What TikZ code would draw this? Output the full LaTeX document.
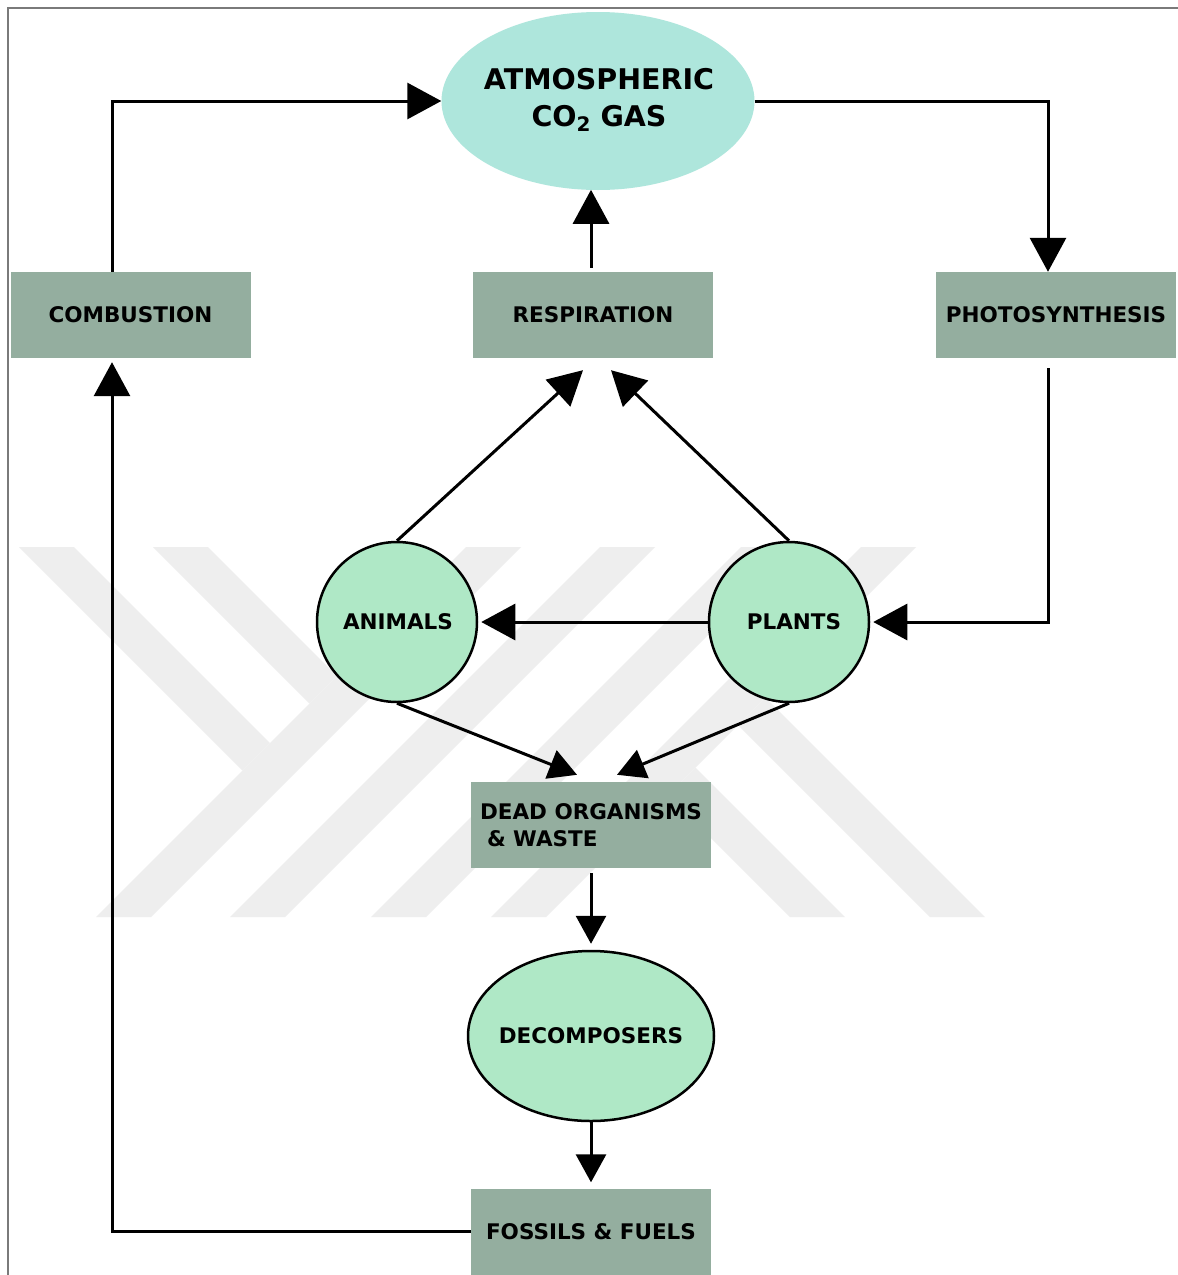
\documentclass[tikz,border=0pt]{standalone}
\usepackage{fontspec}
\setmainfont{DejaVu Sans}
\usetikzlibrary{arrows.meta,shapes.geometric,calc}
\definecolor{boxfill}{HTML}{94AE9F}
\definecolor{atmfill}{HTML}{AEE6DC}
\definecolor{orgfill}{HTML}{AFE8C6}
\definecolor{wmark}{HTML}{EEEEEE}
\definecolor{framegray}{HTML}{7A7A7A}
\begin{document}
\begin{tikzpicture}[x=1pt,y=-1pt,
  procbox/.style={rectangle, fill=boxfill, minimum width=240pt, minimum height=86pt, inner sep=0pt,
    font=\bfseries\fontsize{21.5}{27}\selectfont},
  organism/.style={circle, fill=orgfill, draw=black, line width=2.5pt, minimum size=160pt, inner sep=0pt},
  labeltext/.style={font=\bfseries\fontsize{21.5}{27}\selectfont, inner sep=0pt},
  flow/.style={line width=3pt, -{Triangle[length=34pt,width=36pt]}},
  smallflow/.style={line width=3pt, -{Triangle[length=28pt,width=30pt]}},
  wm/.style={fill=wmark, draw=none}
]
\useasboundingbox (0,0) rectangle (1178,1275);
\fill[white] (0,0) rectangle (1178,1275);
% watermark
\fill[wm] (19,547) -- (74,547) -- (270,743) -- (242.5,770.5) -- cycle;
\fill[wm] (153,547) -- (208,547) -- (337,676) -- (309.5,703.5) -- cycle;
\fill[wm] (466,547) -- (521,547) -- (151,917) -- (96,917) -- cycle;
\fill[wm] (600,547) -- (655,547) -- (285,917) -- (230,917) -- cycle;
\fill[wm] (741,547) -- (796,547) -- (426,917) -- (371,917) -- cycle;
\fill[wm] (861,547) -- (916,547) -- (546,917) -- (491,917) -- cycle;
\fill[wm] (668,795) -- (695.5,767.5) -- (845,917) -- (790,917) -- cycle;
\fill[wm] (738,725) -- (765.5,697.5) -- (985,917) -- (930,917) -- cycle;
% frame
\draw[framegray, line width=1.5pt] (1178,8) -- (8,8) -- (8,1275);
% nodes
\node[ellipse, fill=atmfill, minimum width=313pt, minimum height=178pt, inner sep=0pt] (atm) at (598,101) {};
\node[font=\bfseries\fontsize{28.5}{37}\selectfont, align=center, inner sep=0pt] (atmtext) at (599,100)
  {ATMOSPHERIC\\CO\raisebox{-0.3ex}{\fontsize{20}{20}\selectfont 2} GAS};
\node[procbox] (comb) at (130.5,315) {COMBUSTION};
\node[procbox] (resp) at (593,315) {RESPIRATION};
\node[procbox] (photo) at (1056,315) {PHOTOSYNTHESIS};
\node[organism] (animals) at (397,622) {};
\node[labeltext] (animalstext) at (398,622) {ANIMALS};
\node[organism] (plants) at (789,622) {};
\node[labeltext] (plantstext) at (794,622) {PLANTS};
\node[procbox, align=left] (dead) at (591,825) {DEAD ORGANISMS\\\hspace*{7pt}\& WASTE};
\node[ellipse, fill=orgfill, draw=black, line width=2.5pt, minimum width=246pt, minimum height=170pt, inner sep=0pt] (decomp) at (591,1036) {};
\node[labeltext] (decomptext) at (591,1036) {DECOMPOSERS};
\node[procbox] (fossil) at (591,1231.5) {FOSSILS \& FUELS};
% connectors
\draw[flow] ($(comb.north)+(-18.5,0)$) |- (atm.west);
\draw[flow] ($(resp.north)+(-2,-4)$) -- ($(resp.north)+(-2,-82)$);
\draw[flow] (atm.east) -| ($(photo.north)+(-8,0)$);
\draw[flow] ($(photo.south)+(-8,10)$) |- ($(plants.east)+(3,0)$);
\draw[flow] (plants.west) -- ($(animals.east)+(3,0)$);
\draw[flow] (animals.north) -- ($(resp.south)+(-10,12)$);
\draw[flow] (plants.north) -- ($(resp.south)+(18,12)$);
\draw[smallflow] (animals.south) -- ($(dead.north)+(-14,-7)$);
\draw[smallflow] (plants.south) -- ($(dead.north)+(26,-7)$);
\draw[smallflow] ($(dead.south)+(0,5)$) -- ($(decomp.north)+(0,-6)$);
\draw[smallflow] (decomp.south) -- ($(fossil.north)+(0,-6)$);
\draw[flow] (fossil.west) -| ($(comb.south)+(-18.5,4)$);
\end{tikzpicture}
\end{document}
